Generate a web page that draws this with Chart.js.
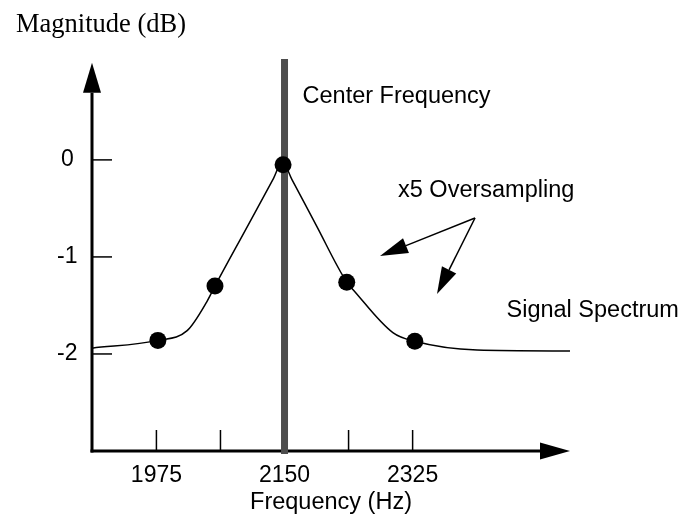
<!DOCTYPE html>
<html>
<head>
<meta charset="utf-8">
<script src="https://cdn.jsdelivr.net/npm/chart.js@4.4.1/dist/chart.umd.min.js"></script>
<style>
  html, body { margin: 0; padding: 0; background: #fff; }
</style>
</head>
<body>
<canvas id="grafico" width="687" height="527"></canvas>
<script>
// ticks dos eixos
const xTicks = [1975, 2062.5, 2150, 2237.5, 2325];
const xTickLabels = ['1975', '', '2150', '', '2325'];
const yTicks = [0, -1, -2];
const yTickLabels = ['0', '-1', '-2'];

// curva do espectro
const curveHz = [1887, 1977, 2017, 2044, 2055, 2099, 2135, 2147, 2160, 2193, 2235, 2244, 2298, 2328, 2413, 2540];
const curveDb = [-1.94, -1.86, -1.76, -1.46, -1.30, -0.69, -0.19, -0.02, -0.20, -0.67, -1.26, -1.34, -1.78, -1.87, -1.96, -1.97];

// amostras (x5 oversampling)
const sampleHz = [1977, 2055, 2148, 2235, 2328];
const sampleDb = [-1.86, -1.30, -0.05, -1.26, -1.87];

const centerHz = 2150;

const SANS = 'Liberation Sans, Arial, sans-serif';
const SERIF = 'Liberation Serif, Times New Roman, serif';

function seta(ctx, x1, y1, x2, y2, comp, meia) {
    const ang = Math.atan2(y2 - y1, x2 - x1);
    const bx = x2 - comp * Math.cos(ang);
    const by = y2 - comp * Math.sin(ang);
    ctx.beginPath();
    ctx.moveTo(x1, y1);
    ctx.lineTo(bx, by);
    ctx.stroke();
    ctx.beginPath();
    ctx.moveTo(x2, y2);
    ctx.lineTo(bx + meia * Math.sin(ang), by - meia * Math.cos(ang));
    ctx.lineTo(bx - meia * Math.sin(ang), by + meia * Math.cos(ang));
    ctx.closePath();
    ctx.fill();
}

// eixos com setas e ticks para dentro
const eixos = {
    id: 'eixos',
    beforeDatasetsDraw(chart) {
        const { ctx, chartArea: a, scales: { x, y } } = chart;
        ctx.save();
        ctx.strokeStyle = '#000';
        ctx.fillStyle = '#000';
        ctx.lineCap = 'butt';

        ctx.lineWidth = 3;
        seta(ctx, a.left, a.bottom + 1.5, a.left, y.getPixelForValue(1), 30, 9);
        seta(ctx, a.left - 1.5, a.bottom, a.right, a.bottom, 30, 8.5);

        ctx.lineWidth = 1.5;
        xTicks.forEach(v => {
            const px = x.getPixelForValue(v);
            ctx.beginPath();
            ctx.moveTo(px, a.bottom);
            ctx.lineTo(px, a.bottom - 21);
            ctx.stroke();
        });
        yTicks.forEach(v => {
            const py = y.getPixelForValue(v);
            ctx.beginPath();
            ctx.moveTo(a.left, py);
            ctx.lineTo(a.left + 20, py);
            ctx.stroke();
        });
        ctx.restore();
    },
    afterDatasetsDraw(chart) {
        const { ctx, scales: { x } } = chart;
        ctx.save();
        ctx.fillStyle = '#000';
        ctx.strokeStyle = '#000';
        ctx.textBaseline = 'alphabetic';
        ctx.textAlign = 'left';

        ctx.font = '26.5px ' + SERIF;
        ctx.fillText('Magnitude (dB)', 16, 32);

        ctx.font = '23.5px ' + SANS;
        ctx.fillText('Center Frequency', x.getPixelForValue(centerHz) + 18, 103);
        ctx.fillText('x5 Oversampling', 398, 196.5);
        ctx.fillText('Signal Spectrum', 506.5, 316.5);

        ctx.lineWidth = 1.5;
        seta(ctx, 475, 218, 380, 256, 28, 8);
        seta(ctx, 475, 218, 437, 294, 27, 8);
        ctx.restore();
    }
};

new Chart(document.getElementById('grafico'), {
    type: 'scatter',
    data: {
        datasets: [
            {
                // amostras
                data: sampleHz.map((h, i) => ({ x: h, y: sampleDb[i] })),
                pointRadius: 8.5,
                pointBackgroundColor: '#000',
                pointBorderWidth: 0,
                showLine: false,
                order: 0
            },
            {
                // frequência central
                data: [{ x: centerHz, y: -3.03 }, { x: centerHz, y: 1.04 }],
                showLine: true,
                borderColor: '#4d4d4d',
                borderWidth: 7,
                pointRadius: 0,
                clip: false,
                order: 1
            },
            {
                // espectro
                data: curveHz.map((h, i) => ({ x: h, y: curveDb[i] })),
                showLine: true,
                borderColor: '#000',
                borderWidth: 1.5,
                pointRadius: 0,
                tension: 0.4,
                cubicInterpolationMode: 'monotone',
                order: 2
            }
        ]
    },
    options: {
        responsive: false,
        animation: false,
        events: [],
        layout: { padding: { top: 58, right: 117, left: 0, bottom: 0 } },
        plugins: {
            legend: { display: false },
            tooltip: { enabled: false }
        },
        scales: {
            x: {
                type: 'linear',
                min: 1887,
                max: 2540,
                afterBuildTicks: s => { s.ticks = xTicks.map(v => ({ value: v })); },
                afterFit: s => { s.height = 76; },
                grid: { display: false, drawTicks: false },
                border: { display: false },
                ticks: {
                    autoSkip: false,
                    maxRotation: 0,
                    padding: 11,
                    color: '#000',
                    font: { family: SANS, size: 23 },
                    callback: (v, i) => xTickLabels[i]
                },
                title: {
                    display: true,
                    text: 'Frequency (Hz)',
                    color: '#000',
                    font: { family: SANS, size: 23.5 },
                    padding: { top: 0, bottom: 10.5 }
                }
            },
            y: {
                type: 'linear',
                min: -3,
                max: 1.05,
                afterBuildTicks: s => { s.ticks = yTicks.map(v => ({ value: v })); },
                afterFit: s => { s.width = 92; },
                grid: { display: false, drawTicks: false },
                border: { display: false },
                ticks: {
                    autoSkip: false,
                    padding: 14.5,
                    crossAlign: 'center',
                    color: '#000',
                    font: { family: SANS, size: 23 },
                    callback: (v, i) => yTickLabels[i]
                }
            }
        }
    },
    plugins: [eixos]
});
</script>
</body>
</html>
